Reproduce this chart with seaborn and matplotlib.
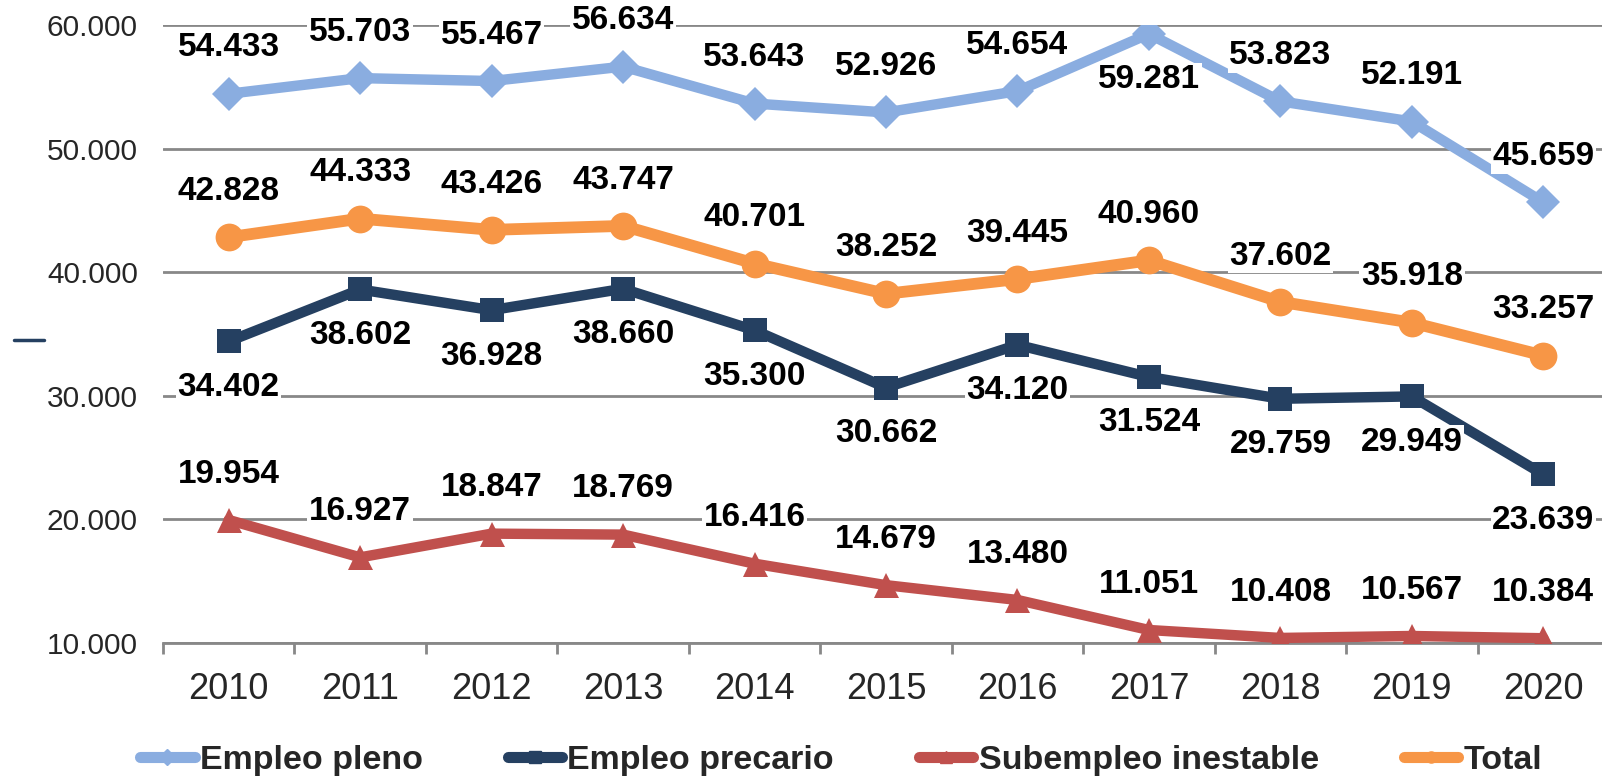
import matplotlib
matplotlib.use("Agg")
import matplotlib.pyplot as plt
from matplotlib.lines import Line2D
from matplotlib.ticker import FuncFormatter, FixedLocator
import seaborn as sns
import pandas as pd

# Data
years = [2010, 2011, 2012, 2013, 2014, 2015, 2016, 2017, 2018, 2019, 2020]
empleo_pleno = [54433, 55703, 55467, 56634, 53643, 52926, 54654, 59281, 53823, 52191, 45659]
empleo_precario = [34402, 38602, 36928, 38660, 35300, 30662, 34120, 31524, 29759, 29949, 23639]
subempleo = [19954, 16927, 18847, 18769, 16416, 14679, 13480, 11051, 10408, 10567, 10384]
total = [42828, 44333, 43426, 43747, 40701, 38252, 39445, 40960, 37602, 35918, 33257]
y_ticks = [10000, 20000, 30000, 40000, 50000, 60000]

sns.set_style("white")
plt.rcParams["font.family"] = ["Liberation Sans", "DejaVu Sans"]

fig = plt.figure(figsize=(16.02, 7.79), dpi=100)
ax = fig.add_axes([0.1017, 0.1746, 0.9027, 0.7933])

def fmt(v):
    return f"{v:,}".replace(",", ".")

# (name, values, colour, marker, markersize, line width, label side: 1 above, -1 below)
series = [
    ("Empleo pleno", empleo_pleno, "#8AADE0", "D", 17, 7.5, [1, 1, 1, 1, 1, 1, 1, -1, 1, 1, 1]),
    ("Empleo precario", empleo_precario, "#254061", "s", 17, 7.5, [-1] * 11),
    ("Subempleo inestable", subempleo, "#C0504D", "^", 18, 7.5, [1] * 11),
    ("Total", total, "#F79646", "o", 20, 8.5, [1] * 11),
]

for name, vals, col, mk, ms, lw, sides in series:
    df = pd.DataFrame({"year": years, "value": vals})
    sns.lineplot(data=df, x="year", y="value", ax=ax, color=col, lw=lw,
                 marker=mk, markersize=ms, markeredgewidth=0, zorder=3)
    for x, v, s in zip(years, vals, sides):
        ax.annotate(fmt(v), (x, v), xytext=(0, 33 * s), textcoords="offset points",
                    ha="center", va="center", fontsize=24, fontweight="bold",
                    color="black", zorder=5,
                    bbox=dict(boxstyle="square,pad=0.05", fc="white", ec="none"))

ax.set_xlim(2009.5, 2020.5)
ax.set_ylim(10000, 60000)
ax.set_xlabel("")
ax.set_ylabel("")
ax.yaxis.set_major_locator(FixedLocator(y_ticks))
ax.yaxis.set_major_formatter(FuncFormatter(lambda v, p: fmt(int(v))))
ax.set_xticks(years)
ax.set_xticklabels([str(y) for y in years])
ax.set_xticks([y + 0.5 for y in years[:-1]] + [2009.5], minor=True)
ax.tick_params(axis="x", which="major", length=0, pad=21, labelsize=26)
ax.tick_params(axis="x", which="minor", length=8, width=2, color="#888888", direction="out", bottom=True)
ax.tick_params(axis="y", length=0, pad=18, labelsize=21.5)
ax.grid(axis="y", color="#888888", lw=2, zorder=0)
ax.grid(axis="x", visible=False)
for sp in ["top", "right", "left"]:
    ax.spines[sp].set_visible(False)
ax.spines["bottom"].set_color("#888888")
ax.spines["bottom"].set_linewidth(2)

# stray mark at the left of the chart
fig.add_artist(Line2D([14 / 1602, 44 / 1602], [1 - 340 / 779, 1 - 340 / 779],
                      color="#254061", lw=2.5))

handles = [Line2D([0], [0], color=col, lw=8, marker=mk, markersize=8,
                  solid_capstyle="round") for _, _, col, mk, _, _, _ in series]
fig.legend(handles, [s[0] for s in series], loc="center", ncol=4,
           bbox_to_anchor=(0.525, 0.024), frameon=False, handlelength=1.6,
           handletextpad=0.15, columnspacing=2.5,
           prop={"size": 24.5, "weight": "bold"})

fig.savefig("out.png", dpi=100)
